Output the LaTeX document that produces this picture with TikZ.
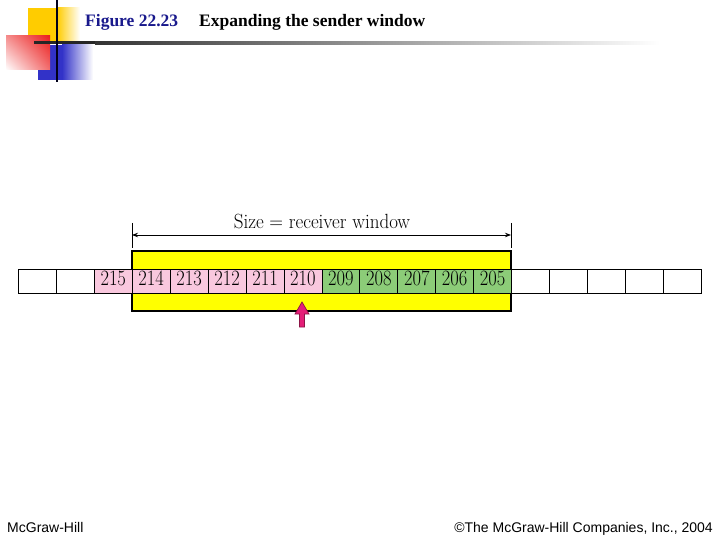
\documentclass[tikz,border=0pt]{standalone}
\usepackage{fontspec}
\newfontfamily\titlefont{Liberation Serif}
\newfontfamily\footfont{Liberation Sans}
\usetikzlibrary{arrows.meta,shadings}
\definecolor{cellpink}{RGB}{249,200,222}
\definecolor{cellgreen}{RGB}{140,204,120}
\definecolor{winyellow}{RGB}{255,255,0}
\definecolor{decoyellow}{RGB}{255,204,0}
\definecolor{decored}{RGB}{235,30,30}
\definecolor{decoblue}{RGB}{50,50,200}
\definecolor{titleblue}{RGB}{25,25,140}
\definecolor{arrowpink}{RGB}{228,30,120}
\definecolor{arrowedge}{RGB}{140,20,70}
\begin{document}
\begin{tikzpicture}[x=1pt,y=-1pt,
  cellbox/.style={draw=black, line width=0.8pt, minimum width=37.94pt, minimum height=24pt,
    inner sep=0pt, anchor=north west, text height=15pt, text depth=6pt,
    font=\fontsize{18.5}{18.5}\selectfont},
  winbox/.style={draw=black, line width=2.6pt, fill=winyellow, minimum width=379pt,
    minimum height=60pt, inner sep=0pt},
  dimline/.style={line width=0.8pt, {Stealth[length=6pt,width=4.5pt]}-{Stealth[length=6pt,width=4.5pt]}},
  tickline/.style={line width=0.9pt},
  titletext/.style={font=\titlefont\bfseries\fontsize{17.5}{17.5}\selectfont, anchor=base west, inner sep=0pt},
  foottext/.style={font=\footfont\fontsize{14}{14}\selectfont, anchor=base west, inner sep=0pt}
]
\useasboundingbox (0,0) rectangle (720,540);
% decoration
\fill[decoyellow] (28,8) rectangle (57,43);
\shade[left color=decoyellow, right color=white] (57,8) rectangle (80,43);
\fill[decoblue] (38,45) rectangle (62,80);
\shade[left color=decoblue, right color=white] (62,45) rectangle (93,80);
\shade[upper left=decored!50!white, upper right=decored, lower left=white, lower right=decored!65!white] (6,36) rectangle (50,70);
\fill[black!85] (34,41.5) rectangle (95,44.5);
\shade[left color=black!80, right color=white] (95,41.5) rectangle (660,44.5);
\fill[black!90!blue] (55.8,0) rectangle (58.4,82);
% title
\node[titletext, text=titleblue] (fig) at (85,27) {Figure 22.23};
\node[titletext, text=black] (ttl) at (199,27) {Expanding the sender window};
% window
\node[winbox] (win) at (321.6,281) {};
% cells
\foreach \i/\t/\c in {0//white,1//white,2/215/cellpink,3/214/cellpink,4/213/cellpink,5/212/cellpink,6/211/cellpink,7/210/cellpink,8/209/cellgreen,9/208/cellgreen,10/207/cellgreen,11/206/cellgreen,12/205/cellgreen,13//white,14//white,15//white,16//white,17//white}{
  \node[cellbox, fill=\c] (c\i) at ({18+\i*37.94},269) {\scalebox{1}[1.18]{\t}};
}
% dimension
\coordinate (tl1) at (132,223);
\coordinate (tl2) at (132,248);
\coordinate (tr1) at (511,223);
\coordinate (tr2) at (511,248);
\coordinate (dl) at (132,235);
\coordinate (dr) at (511,235);
\draw[tickline] (tl1) -- (tl2);
\draw[tickline] (tr1) -- (tr2);
\draw[dimline] (dl) -- (dr);
\node[font=\fontsize{19}{19}\selectfont, anchor=base, inner sep=0pt] (size) at (322,229) {\scalebox{1}[1.08]{Size = receiver window}};
% pointer arrow
\draw[fill=arrowpink, draw=arrowedge, line width=0.7pt, line join=miter]
  (302,302) -- (309,314) -- (304.5,314) -- (304.5,327) -- (299.5,327) -- (299.5,314) -- (295,314) -- cycle;
\coordinate (ptr) at (302,302);
% footer
\node[foottext] (mh) at (7,532) {McGraw-Hill};
\node[foottext, anchor=base east] (copy) at (713,532) {©The McGraw-Hill Companies, Inc., 2004};
\end{tikzpicture}
\end{document}
